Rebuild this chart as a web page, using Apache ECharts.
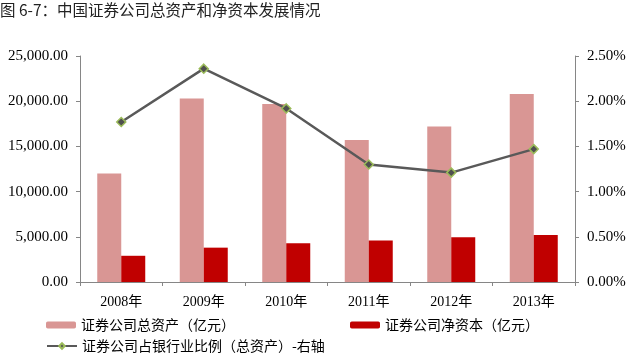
<!DOCTYPE html>
<html><head><meta charset="utf-8">
<script src="https://cdn.jsdelivr.net/npm/echarts@6/dist/echarts.min.js"></script>
<style>html,body{margin:0;padding:0;background:#fff}#c{width:631px;height:363px}</style>
</head><body><div id="c"></div>
<script>
const categories = ['2008年','2009年','2010年','2011年','2012年','2013年'];
const totalAssets = [12000, 20300, 19700, 15700, 17200, 20800];
const netCapital = [2900, 3800, 4300, 4600, 4950, 5200];
const ratio = [1.77, 2.36, 1.92, 1.30, 1.21, 1.47];
const leftTicks = [0, 5000, 10000, 15000, 20000, 25000];
const rightTicks = [0, 0.5, 1.0, 1.5, 2.0, 2.5];
const names = ['证券公司总资产（亿元）','证券公司净资本（亿元）','证券公司占银行业比例（总资产）-右轴'];

const serif = '"Liberation Serif","Noto Sans CJK SC",serif';
const cjk = '"Noto Sans CJK SC","Liberation Serif",sans-serif';
function fmtNum(v){
  const s = v.toFixed(2); const parts = s.split('.');
  parts[0] = parts[0].replace(/\B(?=(\d{3})+(?!\d))/g, ',');
  return parts.join('.');
}
const axisLine = {show:true, lineStyle:{color:'#868686', width:1}};
const legendText = {fontFamily:cjk, fontSize:14, color:'#000'};
const chart = echarts.init(document.getElementById('c'));
chart.setOption({
  animation:false,
  title:{text:'图 6-7：中国证券公司总资产和净资本发展情况', left:0, top:2, padding:0,
    textStyle:{fontFamily:cjk, fontSize:15.5, fontWeight:'normal', color:'#222'}},
  grid:{left:80, right:56, top:56, bottom:81},
  legend:[
    {data:[names[0]], left:41, top:313, itemWidth:30, itemHeight:7, textStyle:legendText},
    {data:[names[1]], left:345, top:313, itemWidth:30, itemHeight:7, textStyle:legendText},
    {data:[names[2]], left:41, top:334, itemWidth:30, itemHeight:7, textStyle:legendText}
  ],
  xAxis:{type:'category', data:categories, boundaryGap:true,
    axisLine:axisLine, axisTick:{show:true, length:4, alignWithLabel:false, lineStyle:{color:'#868686'}},
    axisLabel:{fontFamily:serif, fontSize:14, color:'#000', margin:13}},
  yAxis:[
    {type:'value', min:leftTicks[0], max:leftTicks[leftTicks.length-1], interval:5000,
      splitLine:{show:false}, axisLine:axisLine, axisTick:{show:true, length:4, lineStyle:{color:'#868686'}},
      axisLabel:{fontFamily:serif, fontSize:15, color:'#000', margin:12, formatter:v=>fmtNum(v)}},
    {type:'value', min:rightTicks[0], max:rightTicks[rightTicks.length-1], interval:0.5, position:'right',
      splitLine:{show:false}, axisLine:axisLine, axisTick:{show:true, length:4, lineStyle:{color:'#868686'}},
      axisLabel:{fontFamily:serif, fontSize:15, color:'#000', margin:12, formatter:v=>v.toFixed(2)+'%'}}
  ],
  series:[
    {name:names[0], type:'bar', data:totalAssets, barWidth:24, barGap:'0%',
      itemStyle:{color:'#D99694'}},
    {name:names[1], type:'bar', data:netCapital, barWidth:24, barGap:'0%',
      itemStyle:{color:'#C00000'}},
    {name:names[2], type:'line', yAxisIndex:1, data:ratio, symbol:'diamond', symbolSize:9,
      lineStyle:{color:'#595959', width:2.5},
      itemStyle:{color:'#4F4F4F', borderColor:'#9BBB59', borderWidth:1.5}}
  ]
});
</script></body></html>
